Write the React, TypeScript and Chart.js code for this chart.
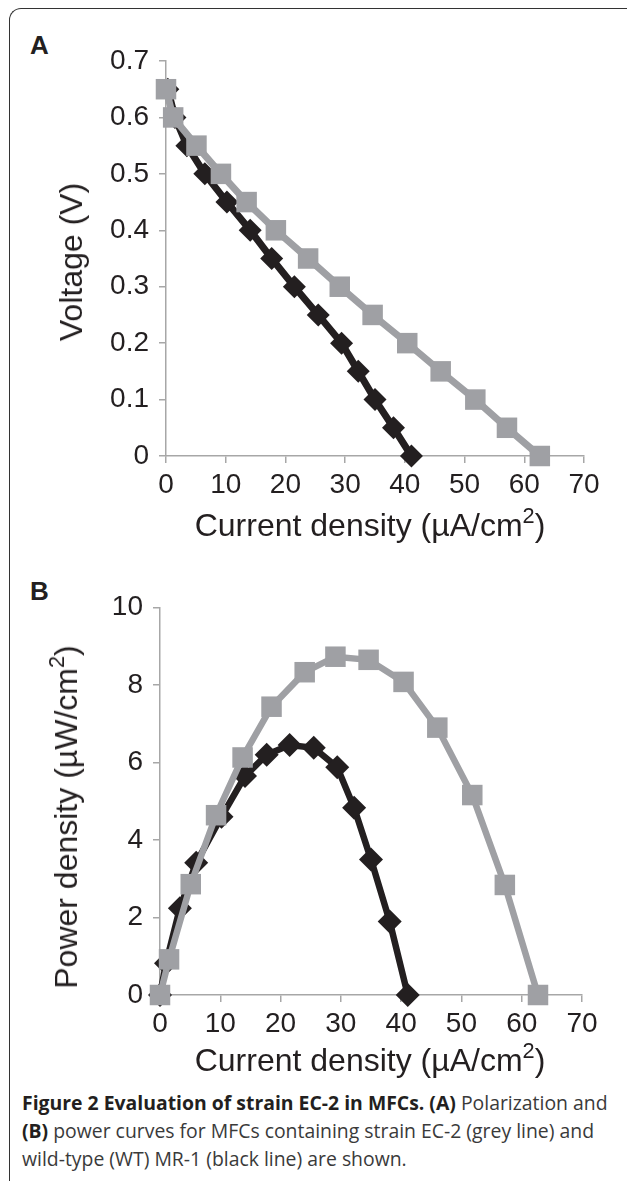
import React, { useEffect, useRef } from "react";
import { Chart, registerables } from "chart.js";

Chart.register(...registerables);

// ---- Data ----
const xTicks = [0, 10, 20, 30, 40, 50, 60, 70];
const voltageTicks = [0, 0.1, 0.2, 0.3, 0.4, 0.5, 0.6, 0.7];
const powerTicks = [0, 2, 4, 6, 8, 10];

// Panel A: polarization curves
const currentEC2_A = [0, 1.2, 5.1, 9.2, 13.5, 18.4, 23.8, 29.1, 34.6, 40.4, 46.0, 51.8, 57.1, 62.6];
const voltageEC2 = [0.65, 0.6, 0.55, 0.5, 0.45, 0.4, 0.35, 0.3, 0.25, 0.2, 0.15, 0.1, 0.05, 0];
const currentWT_A = [0.3, 1.5, 3.5, 6.5, 10.2, 14.1, 17.7, 21.5, 25.5, 29.4, 32.2, 35.0, 38.1, 41.1];
const voltageWT = [0.65, 0.6, 0.55, 0.5, 0.45, 0.4, 0.35, 0.3, 0.25, 0.2, 0.15, 0.1, 0.05, 0];

// Panel B: power curves
const currentEC2_B = [0, 1.5, 5.1, 9.3, 13.7, 18.5, 24.0, 29.1, 34.6, 40.4, 46.0, 51.8, 57.2, 62.7];
const powerEC2 = [0, 0.92, 2.86, 4.64, 6.13, 7.44, 8.33, 8.73, 8.65, 8.08, 6.9, 5.16, 2.84, 0];
const currentWT_B = [0, 1.0, 3.3, 6.0, 10.2, 14.1, 17.7, 21.5, 25.5, 29.4, 32.2, 35.0, 38.1, 41.1];
const powerWT = [0, 0.82, 2.24, 3.41, 4.6, 5.65, 6.2, 6.45, 6.38, 5.88, 4.83, 3.5, 1.9, 0];

const GREY = "#9fa0a4";
const BLACK = "#231f20";
const AXIS = "#a7a7a7";
const FONT = "'Liberation Sans', Arial, Helvetica, sans-serif";

function pts(xs: number[], ys: number[]) {
  return xs.map((x, i) => ({ x, y: ys[i] }));
}

type PanelCfg = {
  greyX: number[]; greyY: number[]; blackX: number[]; blackY: number[];
  yTicks: number[]; yMax: number; yWidth: number; xHeight: number;
  padTop: number; padRight: number; lineW: number; sq: number; dia: number;
};

function buildChart(canvas: HTMLCanvasElement, c: PanelCfg) {
  const tickFont = { family: FONT, size: 28 };
  return new Chart(canvas, {
    type: "scatter",
    data: {
      datasets: [
        {
          label: "EC-2",
          data: pts(c.greyX, c.greyY),
          showLine: true,
          borderColor: GREY,
          backgroundColor: GREY,
          borderWidth: c.lineW,
          pointStyle: "rect",
          pointRadius: c.sq,
          pointBorderWidth: 0,
          pointBackgroundColor: GREY,
          tension: 0,
        },
        {
          label: "WT MR-1",
          data: pts(c.blackX, c.blackY),
          showLine: true,
          borderColor: BLACK,
          backgroundColor: BLACK,
          borderWidth: c.lineW,
          pointStyle: "rectRot",
          pointRadius: c.dia,
          pointBorderWidth: 0,
          pointBackgroundColor: BLACK,
          tension: 0,
        },
      ],
    },
    options: {
      responsive: false,
      animation: false,
      clip: false,
      layout: { padding: { top: c.padTop, right: c.padRight, left: 0, bottom: 0 } },
      plugins: { legend: { display: false }, tooltip: { enabled: false }, title: { display: false } },
      scales: {
        x: {
          type: "linear",
          min: 0,
          max: 70,
          afterBuildTicks: (s: any) => { s.ticks = xTicks.map((v) => ({ value: v })); },
          afterFit: (s: any) => { s.height = c.xHeight; },
          grid: { drawOnChartArea: false, drawTicks: true, tickLength: 7, color: AXIS, lineWidth: 1.5 },
          border: { display: true, color: AXIS, width: 1.5 },
          ticks: { font: tickFont, color: BLACK, padding: 5, maxRotation: 0, autoSkip: false },
        },
        y: {
          type: "linear",
          min: 0,
          max: c.yMax,
          afterBuildTicks: (s: any) => { s.ticks = c.yTicks.map((v) => ({ value: v })); },
          afterFit: (s: any) => { s.width = c.yWidth; },
          grid: { drawOnChartArea: false, drawTicks: true, tickLength: 7, color: AXIS, lineWidth: 1.5 },
          border: { display: true, color: AXIS, width: 1.5 },
          ticks: {
            font: tickFont,
            color: BLACK,
            padding: 10,
            autoSkip: false,
            callback: (v: any) => String(Number(Number(v).toFixed(2))),
          },
        },
      },
    } as any,
  });
}

const abs = (s: React.CSSProperties): React.CSSProperties => ({ position: "absolute", ...s });

export default function App() {
  const refA = useRef<HTMLCanvasElement>(null);
  const refB = useRef<HTMLCanvasElement>(null);

  useEffect(() => {
    const a = buildChart(refA.current!, {
      greyX: currentEC2_A, greyY: voltageEC2, blackX: currentWT_A, blackY: voltageWT,
      yTicks: voltageTicks, yMax: 0.7, yWidth: 166, xHeight: 84, padTop: 61, padRight: 43,
      lineW: 7, sq: 14.5, dia: 11.5,
    });
    const b = buildChart(refB.current!, {
      greyX: currentEC2_B, greyY: powerEC2, blackX: currentWT_B, blackY: powerWT,
      yTicks: powerTicks, yMax: 10, yWidth: 160, xHeight: 45, padTop: 47.5, padRight: 45,
      lineW: 6.5, sq: 14.5, dia: 12,
    });
    return () => { a.destroy(); b.destroy(); };
  }, []);

  const titleStyle: React.CSSProperties = {
    fontFamily: FONT, fontSize: 32, color: BLACK, whiteSpace: "nowrap", lineHeight: 1,
  };
  const sup: React.CSSProperties = { fontSize: "0.68em", verticalAlign: "0.6em", lineHeight: 0 };
  const panelLetter: React.CSSProperties = {
    fontFamily: FONT, fontWeight: "bold", fontSize: 26, color: BLACK, lineHeight: 1,
  };
  const bold: React.CSSProperties = { color: "#231f20", fontWeight: 700 };

  return (
    <div style={abs({ left: 0, top: 0, width: 627, height: 1181, overflow: "hidden", background: "#fff" })}>
      <div style={abs({ left: 9, top: 8, width: 618, height: 1173, borderLeft: "1.5px solid #333", borderTop: "1.5px solid #333", borderTopLeftRadius: 12, boxSizing: "border-box" })} />

      <div style={abs({ left: 30, top: 32, ...panelLetter })}>A</div>
      <canvas ref={refA} width={627} height={540} style={abs({ left: 0, top: 0, width: 627, height: 540 })} />
      <div style={abs({ left: 71, top: 262, transform: "translate(-50%, -50%) rotate(-90deg)", ...titleStyle })}>Voltage (V)</div>
      <div style={abs({ left: 370, top: 525, transform: "translate(-50%, -50%)", ...titleStyle })}>
        Current density (µA/cm<span style={sup}>2</span>)
      </div>

      <div style={abs({ left: 30, top: 578, ...panelLetter })}>B</div>
      <canvas ref={refB} width={627} height={480} style={abs({ left: 0, top: 560, width: 627, height: 480 })} />
      <div style={abs({ left: 66, top: 817, transform: "translate(-50%, -50%) rotate(-90deg)", ...titleStyle })}>
        Power density (µW/cm<span style={sup}>2</span>)
      </div>
      <div style={abs({ left: 370, top: 1060, transform: "translate(-50%, -50%)", ...titleStyle })}>
        Current density (µA/cm<span style={sup}>2</span>)
      </div>

      <div style={abs({ left: 22, top: 1089, width: 605, whiteSpace: "nowrap", fontFamily: "'Open Sans', 'Noto Sans', sans-serif", fontSize: 19.4, lineHeight: "28px", color: "#3a3a3a" })}>
        <span style={bold}>Figure 2 Evaluation of strain EC-2 in MFCs. (A)</span> Polarization and
        <br />
        <span style={bold}>(B)</span> power curves for MFCs containing strain EC-2 (grey line) and
        <br />
        wild-type (WT) MR-1 (black line) are shown.
      </div>
    </div>
  );
}
